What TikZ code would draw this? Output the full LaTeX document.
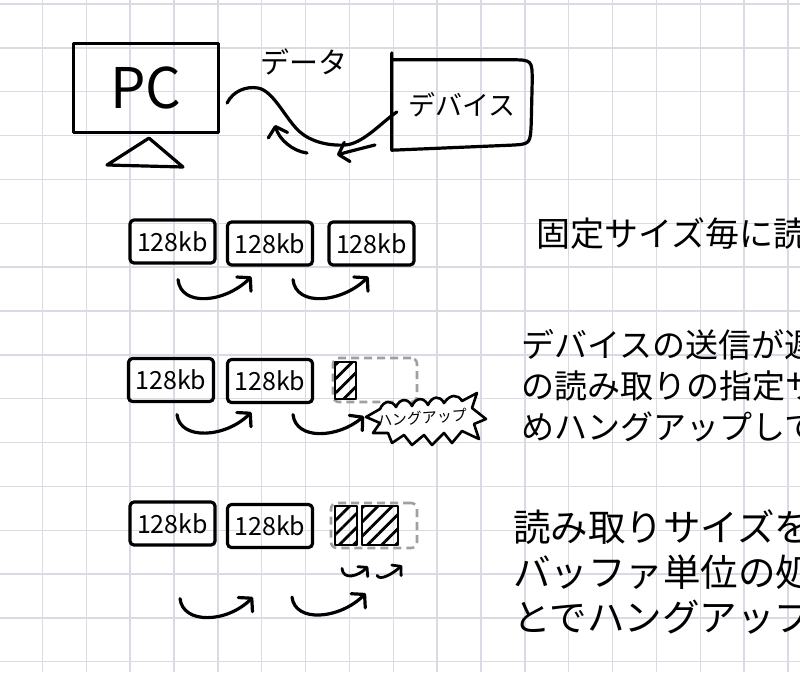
\documentclass[tikz,border=0pt]{standalone}
\usepackage{fontspec}
\newfontfamily\jp{Noto Sans CJK JP}
\usetikzlibrary{arrows.meta,calc,patterns.meta}
\definecolor{gridc}{RGB}{218,218,228}
\definecolor{dashc}{RGB}{160,160,160}
\tikzset{
 hand/.style={line width=3.2pt, line cap=round, line join=round},
 harrow/.style={hand, -{Straight Barb[length=9pt,width=20pt,round]}},
 sarrow/.style={hand, line width=2.8pt, -{Straight Barb[length=6pt,width=14pt,round]}},
 kbbox/.style={draw, hand, rounded corners=4pt, minimum width=85pt, minimum height=43pt, inner sep=0pt, font=\jp\fontsize{25}{25}\selectfont},
 dashbox/.style={draw=dashc, line width=2.6pt, dash pattern=on 8pt off 5pt, rounded corners=6pt, inner sep=0pt},
 hatch/.style={draw, line width=2.8pt, line join=round, pattern={Lines[angle=45,distance=10pt,line width=2.8pt]}, inner sep=0pt},
 gridline/.style={draw=gridc, line width=1.4pt},
 note/.style={anchor=base west, inner sep=0pt},
}
\begin{document}
\begin{tikzpicture}[x=1pt,y=-1pt]
\useasboundingbox (0,0) rectangle (800,672);
\fill[white] (0,0) rectangle (800,672);
% grid
\foreach \k in {0,...,18} \draw[gridline] ({-1.4+43.85*\k},0) -- ++(0,672);
\foreach \k in {0,...,15} \draw[gridline] (0,{4+43.85*\k}) -- ++(800,0);

% ---- top: PC and device ----
\node[draw, hand, minimum width=145pt, minimum height=89pt, inner sep=0pt, font=\jp\fontsize{56}{56}\selectfont] (pc) at (146,88) {PC\hspace{16pt}};
\draw[hand] ($(pc.south)+(3,4)$) -- (107,165) -- (183,167) -- cycle;

\node[minimum width=140pt, minimum height=90pt, inner sep=0pt, font=\jp\fontsize{27}{27}\selectfont] (dev) at (462,105) {デバイス};
\draw[hand] ($(dev.north west)+(0,-7)$) -- (dev.south west) -- ($(dev.south east)+(-22,-5)$) .. controls ($(dev.south east)+(-2,-6)$) .. ($(dev.south east)+(-1,-26)$) -- ($(dev.north east)+(0,22)$) .. controls (dev.north east) .. ($(dev.north east)+(-22,0)$) -- (dev.north west);

\node[font=\jp\fontsize{29}{29}\selectfont] (data) at (304,62) {データ};

% data line between PC and device
\draw[hand] ($(pc.east)+(7,15)$) .. controls +(6,-12) and +(-12,-2) .. (258,88)
  .. controls +(16,3) and +(-14,-12) .. (300,132)
  .. controls +(10,9) and +(-18,1) .. (345,145)
  .. controls +(18,-1) and +(-15,10) .. ($(dev.west)+(5,7)$);

\coordinate (ta1s) at (307,153);
\coordinate (ta1e) at (275,125);
\draw[harrow] (ta1s) .. controls +(-15,-2) and +(4,14) .. (ta1e);
\coordinate (ta2s) at (375,145);
\coordinate (ta2e) at (337,155);
\draw[harrow] (ta2s) .. controls +(-12,3) and +(10,-3) .. (ta2e);

% ---- row 1 ----
\node[kbbox] (r1a) at (172.5,241.5) {128kb};
\node[kbbox] (r1b) at (270,243.5) {128kb};
\node[kbbox] (r1c) at (371.5,243.5) {128kb};
\draw[harrow] ($(r1a.south)+(5.5,15)$) .. controls +(3,28) and +(-26,26) .. ($(r1b.south west)+(25.5,10)$);
\draw[harrow] ($(r1b.south)+(23,13)$) .. controls +(3,28) and +(-26,26) .. ($(r1c.south west)+(41,10)$);

% ---- row 2 ----
\node[kbbox] (r2a) at (171,380) {128kb};
\node[kbbox] (r2b) at (270,381) {128kb};
\node[dashbox, minimum width=84pt, minimum height=44pt] (d2) at (375,380) {};
\node[hatch, minimum width=21pt, minimum height=37pt] (h2) at (345.5,380.5) {};
\draw[hand, line width=2.6pt, fill=white] (366,417) -- (380,409)
  .. controls (384,400) and (392,400) .. (396,407)
  .. controls (400,398) and (408,398) .. (412,406)
  .. controls (416,397) and (424,397) .. (428,405)
  .. controls (432,396) and (440,395) .. (444,403)
  .. controls (450,394) and (458,394) .. (462,401)
  -- (477,393) -- (472,408) -- (486,419) -- (474,424) -- (479,439) -- (462,431)
  -- (452,443) -- (444,433) -- (432,445) -- (424,435) -- (412,445) -- (404,435)
  -- (392,443) -- (388,433) -- (373,433) -- (380,423) -- cycle;
\node[font=\jp\fontsize{15}{15}\selectfont, inner sep=0pt, rotate=4] (hang) at (422,418) {ハングアップ};
\draw[harrow] ($(r2a.south)+(6,11.5)$) .. controls +(3,26) and +(-26,26) .. ($(r2b.south west)+(25.5,8)$);
\draw[harrow] ($(r2b.south)+(23,10.5)$) .. controls +(3,26) and +(-26,22) .. ($(hang.west)+(-13,-5)$);

% ---- row 3 ----
\node[kbbox] (r3a) at (172.5,523.5) {128kb};
\node[kbbox] (r3b) at (270,526) {128kb};
\node[dashbox, minimum width=86pt, minimum height=45pt] (d3) at (374,525.5) {};
\node[hatch, minimum width=22pt, minimum height=39pt] (h3a) at (346,525.5) {};
\node[hatch, minimum width=36pt, minimum height=39pt] (h3b) at (380,525.5) {};
\draw[sarrow] ($(h3a.south)+(-4,22)$) .. controls +(1,12) and +(-10,10) .. ($(h3a.south)+(22,20)$);
\draw[sarrow] ($(h3b.south)+(-3,29)$) .. controls +(3,6) and +(-9,8) .. ($(h3b.south)+(22,19)$);
\draw[harrow] ($(r3a.south)+(7.5,52)$) .. controls +(3,26) and +(-26,26) .. ($(r3b.south west)+(27,48)$);
\draw[harrow] ($(r3b.south)+(22,48)$) .. controls +(3,26) and +(-26,26) .. ($(d3.south west)+(36,44)$);

% ---- notes ----
\node[note, font=\jp\fontsize{34}{34}\selectfont] (t1) at (536,246) {固定サイズ毎に読};
\node[note, font=\jp\fontsize{33}{33}\selectfont] (t2a) at (521,357.5) {デバイスの送信が遅};
\node[note, font=\jp\fontsize{33}{33}\selectfont] (t2b) at (521,398.5) {の読み取りの指定サ};
\node[note, font=\jp\fontsize{33}{33}\selectfont] (t2c) at (521,439.5) {めハングアップして};
\node[note, font=\jp\fontsize{37.5}{37.5}\selectfont] (t3a) at (513,541) {読み取りサイズを};
\node[note, font=\jp\fontsize{37.5}{37.5}\selectfont] (t3b) at (513,586) {バッファ単位の処};
\node[note, font=\jp\fontsize{37.5}{37.5}\selectfont] (t3c) at (513,631) {とでハングアップ};
\end{tikzpicture}
\end{document}
